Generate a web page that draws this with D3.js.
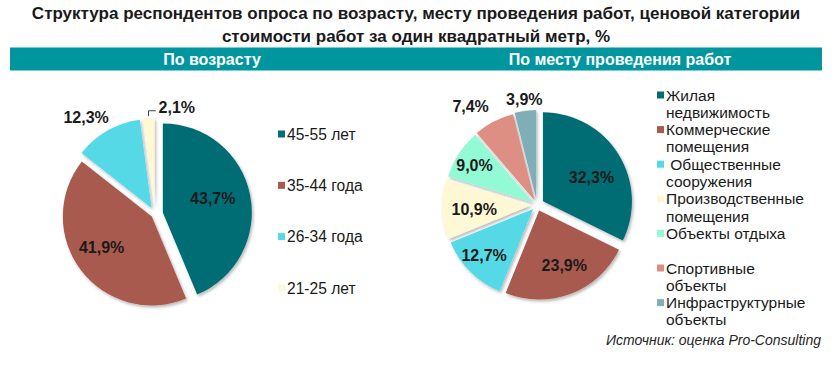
<!DOCTYPE html>
<html><head><meta charset="utf-8">
<script src="https://cdn.jsdelivr.net/npm/d3@7"></script>
<style>
body{margin:0;background:#fff}
svg{display:block;font-family:"Liberation Sans",Arial,sans-serif}
</style>
</head><body>
<svg id="c" width="839" height="365"></svg>
<script>
// ---- data ----
const titleLines = [
  "Структура респондентов опроса по возрасту, месту проведения работ, ценовой категории",
  "стоимости работ за один квадратный метр, %"
];
const panelTitles = ["По возрасту", "По месту проведения работ"];
const ageCategories = ["45-55 лет", "35-44 года", "26-34 года", "21-25 лет"];
const ageValues = [43.7, 41.9, 12.3, 2.1];
const placeCategories = [
  "Жилая\nнедвижимость",
  "Коммерческие\nпомещения",
  " Общественные\nсооружения",
  "Производственные\nпомещения",
  "Объекты отдыха",
  "Спортивные\nобъекты",
  "Инфраструктурные\nобъекты"
];
const placeValues = [32.3, 23.9, 12.7, 10.9, 9.0, 7.4, 3.9];
const sourceText = "Источник: оценка Pro-Consulting";

// ---- styles / layout ----
const ageColors = ["#036d75", "#a95a4f", "#56d9e6", "#fff8d4"];
const placeColors = ["#036d75", "#a95a4f", "#56d9e6", "#fff8d4", "#92fad5", "#de8f83", "#80aeb8"];
const bandColor = "#00969f";
const textColor = "#1a1a1a";

const leftLayout = {
  cx: 155, cy: 214, r: 89,
  explode: [8, 4, 7, 7],
  labelR: [0.585, 0.66, 1.26, 1.154],
  labelDA: [-5, 6, -6, 16.3],
  leader: [false, false, false, true]
};
const rightLayout = {
  cx: 537, cy: 205, r: 89,
  explode: [7, 6, 5.5, 6, 4.5, 5, 6],
  labelR: [0.61, 0.675, 0.755, 0.64, 0.78, 1.28, 1.128],
  labelDA: [5.2, -3.9, 1.8, -1.6, -1, -6.9, 0.2],
  leader: [false, false, false, false, false, false, false]
};

const svg = d3.select("#c");
const defs = svg.append("defs");
const f = defs.append("filter").attr("id", "sh").attr("x", "-20%").attr("y", "-20%").attr("width", "140%").attr("height", "140%");
f.append("feDropShadow").attr("dx", 1.5).attr("dy", 2).attr("stdDeviation", 1.8)
  .attr("flood-color", "#000").attr("flood-opacity", 0.28);

// title
svg.append("g").selectAll("text").data(titleLines).join("text")
  .attr("x", 416).attr("y", (d, i) => 19 + i * 23)
  .attr("text-anchor", "middle").attr("font-weight", "bold").attr("font-size", 17)
  .attr("fill", textColor).text(d => d);

// band
svg.append("rect").attr("x", 10).attr("y", 47.5).attr("width", 812).attr("height", 23).attr("fill", bandColor);
const bandX = [212, 620];
svg.append("g").selectAll("text").data(panelTitles).join("text")
  .attr("x", (d, i) => bandX[i]).attr("y", 64.5)
  .attr("text-anchor", "middle").attr("font-weight", "bold").attr("font-size", 16)
  .attr("fill", "#fff").text(d => d);

const fmt = v => d3.format(".1f")(v).replace(".", ",") + "%";
const rad = deg => deg * Math.PI / 180;

function drawPie(values, colors, L) {
  const pie = d3.pie().sort(null).value(d => d)(values);
  const arc = d3.arc().innerRadius(0).outerRadius(L.r);
  const g = svg.append("g");
  const slices = g.append("g").attr("filter", "url(#sh)");
  pie.forEach((p, i) => {
    const mid = (p.startAngle + p.endAngle) / 2;
    const ox = L.cx + Math.sin(mid) * L.explode[i];
    const oy = L.cy - Math.cos(mid) * L.explode[i];
    slices.append("path").attr("d", arc(p)).attr("transform", `translate(${ox},${oy})`)
      .attr("fill", colors[i]);
  });
  pie.forEach((p, i) => {
    const mid = (p.startAngle + p.endAngle) / 2;
    const ox = L.cx + Math.sin(mid) * L.explode[i];
    const oy = L.cy - Math.cos(mid) * L.explode[i];
    const a = mid + rad(L.labelDA[i]);
    const lx = ox + Math.sin(a) * L.r * L.labelR[i];
    const ly = oy - Math.cos(a) * L.r * L.labelR[i];
    g.append("text").attr("x", lx).attr("y", ly).attr("dy", "0.36em")
      .attr("text-anchor", "middle").attr("font-weight", "bold").attr("font-size", 16)
      .attr("fill", textColor).text(fmt(values[i]));
    if (L.leader[i]) {
      const sx = ox + Math.sin(mid) * (L.r + 2);
      const sy = oy - Math.cos(mid) * (L.r + 2);
      const tw = 38;
      g.append("path")
        .attr("d", `M${sx},${sy}V${ly + 4}H${lx - tw / 2 - 2}`)
        .attr("fill", "none").attr("stroke", "#404040").attr("stroke-width", 1);
    }
  });
}

drawPie(ageValues, ageColors, leftLayout);
drawPie(placeValues, placeColors, rightLayout);

// left legend
const lg = svg.append("g");
ageCategories.forEach((c, i) => {
  const cy = 134 + i * 51.3;
  lg.append("rect").attr("x", 278).attr("y", cy - 3.5).attr("width", 7).attr("height", 7).attr("fill", ageColors[i]);
  lg.append("text").attr("x", 287).attr("y", cy).attr("dy", "0.36em").attr("font-size", 15.6)
    .attr("fill", textColor).text(c);
});

// right legend
const rg = svg.append("g");
placeCategories.forEach((c, i) => {
  const top = 95 + i * 34.6;
  rg.append("rect").attr("x", 657).attr("y", top - 3.5).attr("width", 7).attr("height", 7).attr("fill", placeColors[i]);
  c.split("\n").forEach((line, j) => {
    rg.append("text").attr("x", 666).attr("y", top + j * 17.3).attr("dy", "0.36em")
      .attr("font-size", 15.5).attr("fill", textColor).style("white-space", "pre")
      .attr("xml:space", "preserve").text(line);
  });
});

// source
svg.append("text").attr("x", 821).attr("y", 345).attr("text-anchor", "end")
  .attr("font-size", 14).attr("font-style", "italic").attr("fill", "#262626").text(sourceText);
</script>
</body></html>
